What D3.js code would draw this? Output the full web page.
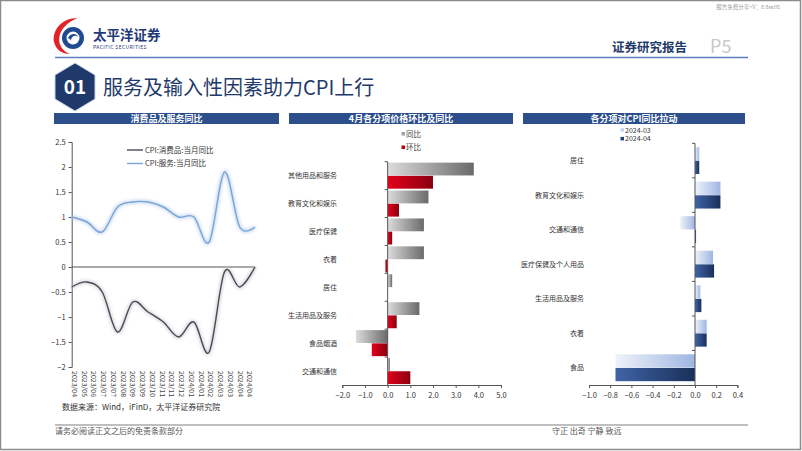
<!DOCTYPE html>
<html><head><meta charset="utf-8">
<script src="https://cdn.jsdelivr.net/npm/d3@7/dist/d3.min.js"></script>
<style>
html,body{margin:0;padding:0;background:#fff;}
svg{display:block;}
text{font-family:"Noto Sans CJK SC","Liberation Sans",sans-serif;}
</style></head>
<body>
<svg id="c" width="802" height="451"></svg>
<script>
// ---------- data ----------
const months = ["2023/04","2023/05","2023/06","2023/07","2023/08","2023/09","2023/10","2023/11","2023/12","2024/01","2024/02","2024/03","2024/04"];
const goodsYoY = [-0.4,-0.3,-0.5,-1.3,-0.7,-0.9,-1.1,-1.4,-1.1,-1.7,-0.1,-0.4,0.0];
const servicesYoY = [1.0,0.9,0.7,1.2,1.3,1.3,1.2,1.0,1.0,0.5,1.9,0.8,0.8];
const leftTickLabels = ["2023/04","2023/05","2023/06","2023/07","2023/07","2023/08","2023/09","2023/09","2023/10","2023/11","2023/11","2023/12","2024/01","2024/01","2024/02","2024/03","2024/03","2024/04","2024/04"];
const leftSeriesNames = ["CPI:消费品:当月同比","CPI:服务:当月同比"];

const midCategories = ["其他用品和服务","教育文化和娱乐","医疗保健","衣着","居住","生活用品及服务","食品烟酒","交通和通信"];
const midYoY = [3.8,1.8,1.6,1.6,0.2,1.4,-1.4,0.1];
const midMoM = [2.0,0.5,0.2,-0.1,0.0,0.4,-0.7,1.0];
const midSeriesNames = ["同比","环比"];
const midTicks = [-2,-1,0,1,2,3,4,5];

const rightCategories = ["居住","教育文化和娱乐","交通和通信","医疗保健及个人用品","生活用品及服务","衣着","食品"];
const pull2403 = [0.04,0.24,-0.14,0.17,0.05,0.11,-0.75];
const pull2404 = [0.04,0.24,0.01,0.18,0.06,0.11,-0.75];
const rightSeriesNames = ["2024-03","2024-04"];
const rightTicks = [-1.0,-0.8,-0.6,-0.4,-0.2,0.0,0.2,0.4];

// ---------- page ----------
const svg = d3.select("#c");
const defs = svg.append("defs");
function grad(id, c1, c2){
  const g = defs.append("linearGradient").attr("id",id).attr("x1","0%").attr("x2","100%").attr("y1","0%").attr("y2","0%");
  g.append("stop").attr("offset","0%").attr("stop-color",c1);
  g.append("stop").attr("offset","100%").attr("stop-color",c2);
}
grad("gGray","#dcdcdc","#6a6a6a");
grad("gRed","#e3001b","#8a0010");
grad("gLight","#eef2fa","#9fb6e2");
grad("gDark","#3f64a6","#1a2f5a");
const blur = defs.append("filter").attr("id","glow").attr("x","-5%").attr("y","-20%").attr("width","110%").attr("height","140%");
blur.append("feGaussianBlur").attr("stdDeviation",1.6);

// frame
svg.append("rect").attr("x",0.5).attr("y",0.5).attr("width",800).attr("height",449).attr("fill","none").attr("stroke","#8c8c8c").attr("stroke-width",1.5);

// watermark
svg.append("text").attr("x",780).attr("y",9).attr("text-anchor","end").attr("font-size",5.5).attr("fill","#9a9a9a").text("报告免费分享+V：8 8se05");

// logo
const logo = svg.append("g");
logo.append("path").attr("d","M78,18 C60,18 52,32 54,42 C56,50 62,54 70,54 C60,50 56,40 62,30 C66,24 72,20 78,18 Z").attr("fill","#e2232a");
logo.append("circle").attr("cx",73).attr("cy",38).attr("r",11).attr("fill","#1f4a8f");
logo.append("circle").attr("cx",73).attr("cy",38).attr("r",6.5).attr("fill","#fff");
logo.append("path").attr("d","M68,38 C70,33 77,33 78,37 C76,35 72,35 71,40 Z").attr("fill","#1f4a8f");
logo.append("text").attr("x",93).attr("y",40).attr("font-size",13.5).attr("font-weight","bold").attr("fill","#1f3a78").text("太平洋证券");
logo.append("text").attr("x",93).attr("y",49).attr("font-size",5).attr("fill","#1f3a78").attr("font-family","Liberation Sans").attr("letter-spacing",0.4).text("PACIFIC SECURITIES");

// header right
svg.append("text").attr("x",612).attr("y",52).attr("font-size",12.5).attr("font-weight","bold").attr("fill","#1f3a6a").text("证券研究报告");
svg.append("text").attr("x",710).attr("y",53).attr("font-size",18).attr("fill","#c9c9c9").attr("font-family","Liberation Sans").text("P5");
svg.append("line").attr("x1",55).attr("x2",748).attr("y1",57.5).attr("y2",57.5).attr("stroke","#5a7fbe").attr("stroke-width",1.6);

// section hexagon
const hx=75, hy=87;
svg.append("path").attr("d",`M${hx},${hy-24} L${hx+20},${hy-12} L${hx+20},${hy+12} L${hx},${hy+24} L${hx-20},${hy+12} L${hx-20},${hy-12} Z`).attr("fill","#1f3a6a").attr("stroke","#c8d2e4").attr("stroke-width",1);
svg.append("text").attr("x",hx).attr("y",hy+7).attr("text-anchor","middle").attr("font-size",19).attr("fill","#fff").attr("font-family","Liberation Serif").attr("font-weight","bold").text("01");
svg.append("text").attr("x",103).attr("y",95).attr("font-size",20).attr("fill","#1f3a6a").text("服务及输入性因素助力CPI上行");

// panel headers
function header(x1,x2,label){
  svg.append("rect").attr("x",x1).attr("y",113).attr("width",x2-x1).attr("height",11).attr("fill","#2c4f8c");
  svg.append("text").attr("x",(x1+x2)/2).attr("y",121.8).attr("text-anchor","middle").attr("font-size",9).attr("font-weight","bold").attr("fill","#fff").text(label);
}
header(54,279,"消费品及服务同比");
header(289,513,"4月各分项价格环比及同比");
header(523,745,"各分项对CPI同比拉动");

// ---------- left chart ----------
const L = svg.append("g");
const ly = d3.scaleLinear().domain([-2,2.5]).range([367,142]);
const lx = d3.scalePoint().domain(months).range([71.7,255]);
const lxLab = d3.scalePoint().domain(d3.range(leftTickLabels.length)).range([74.5,250]);
const yAxL = L.append("g").attr("transform","translate(71.7,0)").call(d3.axisLeft(ly).tickValues(d3.range(-2,2.51,0.5)).tickSize(3).tickFormat(d3.format("")));
yAxL.select(".domain").attr("stroke","#555");
yAxL.selectAll(".tick line").attr("stroke","#555");
yAxL.selectAll("text").attr("font-size",7.5).attr("fill","#333").attr("font-family","Liberation Sans");
L.append("line").attr("x1",71.7).attr("x2",255).attr("y1",ly(0)).attr("y2",ly(0)).attr("stroke","#555").attr("stroke-width",1);
leftTickLabels.forEach((t,i)=>{
  L.append("text").attr("transform",`translate(${lxLab(i)-2.6},371) rotate(90)`).attr("font-size",7).attr("fill","#444").attr("font-family","Liberation Sans").text(t);
});
const line = d3.line().x((d,i)=>lx(months[i])).y(d=>ly(d)).curve(d3.curveCardinal.tension(0));
// glow
L.append("path").datum(servicesYoY).attr("d",line).attr("fill","none").attr("stroke","#b8cdeb").attr("stroke-width",4).attr("opacity",0.7).attr("filter","url(#glow)");
L.append("path").datum(goodsYoY).attr("d",line).attr("fill","none").attr("stroke","#c8c8cc").attr("stroke-width",4).attr("opacity",0.7).attr("filter","url(#glow)");
L.append("path").datum(servicesYoY).attr("d",line).attr("fill","none").attr("stroke","#7aa5d9").attr("stroke-width",1.4);
L.append("path").datum(goodsYoY).attr("d",line).attr("fill","none").attr("stroke","#4a4a58").attr("stroke-width",1.4);
// legend
[["#4a4a58",150],["#7aa5d9",163.5]].forEach((d,i)=>{
  L.append("line").attr("x1",127).attr("x2",143).attr("y1",d[1]).attr("y2",d[1]).attr("stroke",d[0]).attr("stroke-width",1.4);
  L.append("text").attr("x",145).attr("y",d[1]+2.7).attr("font-size",7.5).attr("fill","#333").text(leftSeriesNames[i]);
});

// ---------- middle chart ----------
const M = svg.append("g");
const mx = d3.scaleLinear().domain([-2,5]).range([342.3,501]);
const my = d3.scaleBand().domain(midCategories).range([161.7,385]).paddingInner(0).paddingOuter(0);
const msub = d3.scaleBand().domain([0,1]).range([0,my.bandwidth()]).paddingOuter(0.07).paddingInner(0.03);
const xAxM = M.append("g").attr("transform","translate(0,385)").call(d3.axisBottom(mx).tickValues(midTicks).tickSize(3).tickFormat(d3.format(".1f")));
xAxM.select(".domain").attr("stroke","#555");
xAxM.selectAll(".tick line").attr("stroke","#555");
xAxM.selectAll("text").attr("font-size",7.5).attr("fill","#333").attr("font-family","Liberation Sans").attr("dy","0.9em");
const mBands = [midYoY, midMoM];
const mFills = ["url(#gGray)","url(#gRed)"];
mBands.forEach((arr,s)=>{
  M.selectAll(null).data(arr).enter().append("rect")
    .attr("x",d=>mx(Math.min(0,d))).attr("width",d=>Math.abs(mx(d)-mx(0)))
    .attr("y",(d,i)=>my(midCategories[i])+msub(s)).attr("height",msub.bandwidth())
    .attr("fill",mFills[s]);
});
M.append("line").attr("x1",mx(0)).attr("x2",mx(0)).attr("y1",161.7).attr("y2",385).attr("stroke","#555");
midCategories.forEach((c,i)=>{
  M.append("line").attr("x1",mx(0)-3).attr("x2",mx(0)).attr("y1",my(c)).attr("y2",my(c)).attr("stroke","#555");
  M.append("text").attr("x",337).attr("y",my(c)+my.bandwidth()/2+2.5).attr("text-anchor","end").attr("font-size",7).attr("fill","#333").text(c);
});
[["#a0a0a0",134],["#c00010",147.5]].forEach((d,i)=>{
  M.append("rect").attr("x",401.5).attr("y",d[1]-2).attr("width",3.5).attr("height",3.5).attr("fill",d[0]);
  M.append("text").attr("x",406).attr("y",d[1]+2.5).attr("font-size",7.5).attr("fill","#444").text(midSeriesNames[i]);
});

// ---------- right chart ----------
const R = svg.append("g");
const rx = d3.scaleLinear().domain([-1,0.4]).range([589,737.4]);
const ry = d3.scaleBand().domain(rightCategories).range([143.3,385]);
const rsub = d3.scaleBand().domain([0,1]).range([0,ry.bandwidth()]).paddingOuter(0.28).paddingInner(0.03);
const xAxR = R.append("g").attr("transform","translate(0,385)").call(d3.axisBottom(rx).tickValues(rightTicks).tickSize(3).tickFormat(d3.format(".1f")));
xAxR.select(".domain").attr("stroke","#555");
xAxR.selectAll(".tick line").attr("stroke","#555");
xAxR.selectAll("text").attr("font-size",7.5).attr("fill","#333").attr("font-family","Liberation Sans").attr("dy","0.9em");
const rBands = [pull2403, pull2404];
const rFills = ["url(#gLight)","url(#gDark)"];
rBands.forEach((arr,s)=>{
  R.selectAll(null).data(arr).enter().append("rect")
    .attr("x",d=>rx(Math.min(0,d))).attr("width",d=>Math.max(1,Math.abs(rx(d)-rx(0))))
    .attr("y",(d,i)=>ry(rightCategories[i])+rsub(s)).attr("height",rsub.bandwidth())
    .attr("fill",rFills[s]);
});
R.append("line").attr("x1",rx(0)).attr("x2",rx(0)).attr("y1",143.3).attr("y2",385).attr("stroke","#555");
rightCategories.forEach((c,i)=>{
  R.append("line").attr("x1",rx(0)-3).attr("x2",rx(0)).attr("y1",ry(c)).attr("y2",ry(c)).attr("stroke","#555");
  R.append("text").attr("x",584).attr("y",ry(c)+ry.bandwidth()/2+2.5).attr("text-anchor","end").attr("font-size",7).attr("fill","#333").text(c);
});
[["#c9d6ee",130],["#23417a",138.7]].forEach((d,i)=>{
  R.append("rect").attr("x",620.5).attr("y",d[1]-1.8).attr("width",3.5).attr("height",3.5).attr("fill",d[0]);
  R.append("text").attr("x",625).attr("y",d[1]+2.5).attr("font-size",7).attr("fill","#333").attr("font-family","Liberation Serif").text(rightSeriesNames[i]);
});

// ---------- footer ----------
svg.append("text").attr("x",62).attr("y",410).attr("font-size",8).attr("fill","#333").text("数据来源：Wind，iFinD，太平洋证券研究院");
svg.append("line").attr("x1",55).attr("x2",748).attr("y1",425).attr("y2",425).attr("stroke","#aaa").attr("stroke-width",1.5);
svg.append("text").attr("x",55).attr("y",434).attr("font-size",8).attr("fill","#555").text("请务必阅读正文之后的免责条款部分");
svg.append("text").attr("x",552).attr("y",434).attr("font-size",8).attr("fill","#555").text("守正 出奇 宁静 致远");
</script>
</body></html>
